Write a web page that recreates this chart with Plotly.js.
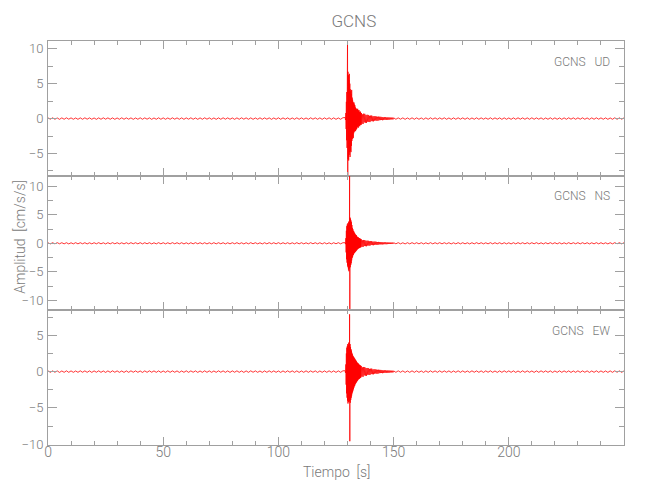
<!DOCTYPE html>
<html>
<head>
<meta charset="utf-8">
<script src="https://cdn.plot.ly/plotly-3.0.1.min.js"></script>
<style>html,body{margin:0;padding:0;background:#fff}</style>
</head>
<body>
<div id="chart" style="width:650px;height:500px"></div>
<script>
// ---- Data (amplitude in cm/s/s, time in s) ----
const station = "GCNS";
const components = ["UD", "NS", "EW"];
const xTickVals = [0, 50, 100, 150, 200];

// sampling of each segment: [start time, step]
const preSeg = [0, 1];
const evtSeg = [129.0, 0.1];
const codaSeg = [136.0, 0.25];
const postSeg = [150, 1];

// UD component
const udPre = [
  0.1,-0.09,0.11,-0.1,0.09,-0.11,0.1,-0.1,0.11,-0.09,0.1,-0.1,0.09,-0.11,0.1,-0.1,0.11,-0.09,0.1,-0.1,
  0.09,-0.11,0.1,-0.1,0.11,-0.09,0.1,-0.1,0.1,-0.11,0.09,-0.1,0.11,-0.1,0.1,-0.09,0.1,-0.11,0.09,-0.1,
  0.11,-0.1,0.1,-0.09,0.1,-0.11,0.09,-0.1,0.11,-0.1,0.1,-0.1,0.09,-0.1,0.11,-0.09,0.1,-0.1,0.1,-0.11,
  0.1,-0.09,0.11,-0.1,0.09,-0.11,0.1,-0.1,0.11,-0.09,0.1,-0.1,0.09,-0.11,0.1,-0.1,0.11,-0.09,0.1,-0.1,
  0.09,-0.11,0.1,-0.1,0.11,-0.09,0.1,-0.1,0.1,-0.11,0.09,-0.1,0.11,-0.1,0.1,-0.09,0.1,-0.11,0.09,-0.1,
  0.11,-0.1,0.1,-0.09,0.1,-0.11,0.09,-0.1,0.11,-0.1,0.1,-0.1,0.09,-0.1,0.11,-0.09,0.1,-0.1,0.1,-0.11,
  0.1,-0.09,0.11,-0.1,0.1,-0.11,0.09,-0.1,0.12];
const udEvt = [0.15,-0.2,0.1,
  0.8,-1.5,2.4,-3.1,3.8,-4.2,4.6,
  11.1,-8.1,
  6.7,-5.8,6.2,-6.0,5.5,-5.2,6.4,-4.8,5.0,
  -5.5,4.2,-4.6,3.9,-4.8,3.5,-3.9,4.1,-3.2,3.0,
  -2.9,2.7,-2.6,2.4,-2.8,2.2,-2.1,2.3,-1.9,2.0,
  -1.8,1.9,-1.7,1.6,-1.8,1.5,-1.6,1.4,-1.5,1.3,
  -1.4,1.3,-1.2,1.4,-1.1,1.2,-1.3,1.1,-1.0,1.2,
  -1.0,0.9,-1.1,0.9,-0.8,1.0,-0.9,0.8,-0.9];
const udCoda = [
  0.8,-0.72,0.6,-0.78,0.7,-0.55,0.68,-0.6,
  0.5,-0.62,0.55,-0.45,0.52,-0.48,0.4,-0.5,
  0.42,-0.36,0.44,-0.38,0.32,-0.4,0.35,-0.3,
  0.34,-0.28,0.3,-0.32,0.26,-0.3,0.28,-0.24,
  0.26,-0.22,0.25,-0.2,0.22,-0.24,0.18,-0.2,
  0.2,-0.17,0.19,-0.2,0.16,-0.18,0.17,-0.15,
  0.16,-0.14,0.15,-0.13,0.14,-0.12,0.13,-0.12];
const udPost = [
  0.11,-0.1,0.1,-0.09,0.1,-0.11,0.09,-0.1,0.11,-0.1,0.1,-0.1,0.09,-0.11,0.1,-0.1,0.11,-0.09,0.1,-0.1,
  0.1,-0.09,0.11,-0.1,0.09,-0.11,0.1,-0.1,0.11,-0.09,0.1,-0.1,0.1,-0.11,0.09,-0.1,0.11,-0.1,0.1,-0.09,
  0.09,-0.1,0.11,-0.1,0.1,-0.09,0.1,-0.11,0.1,-0.1,0.09,-0.11,0.1,-0.1,0.11,-0.09,0.1,-0.1,0.1,-0.1,
  0.11,-0.1,0.1,-0.09,0.1,-0.11,0.09,-0.1,0.11,-0.1,0.1,-0.1,0.09,-0.11,0.1,-0.1,0.11,-0.09,0.1,-0.1,
  0.1,-0.09,0.11,-0.1,0.09,-0.11,0.1,-0.1,0.11,-0.09,0.1,-0.1,0.1,-0.11,0.09,-0.1,0.11,-0.1,0.1,-0.09,
  0.1];

// NS component
const nsPre = [
  0.09,-0.11,0.1,-0.1,0.11,-0.09,0.1,-0.1,0.1,-0.11,0.09,-0.1,0.11,-0.1,0.1,-0.09,0.1,-0.11,0.09,-0.1,
  0.1,-0.09,0.11,-0.1,0.09,-0.11,0.1,-0.1,0.11,-0.09,0.1,-0.1,0.09,-0.11,0.1,-0.1,0.11,-0.09,0.1,-0.1,
  0.11,-0.1,0.1,-0.09,0.1,-0.11,0.09,-0.1,0.11,-0.1,0.1,-0.1,0.09,-0.1,0.11,-0.09,0.1,-0.1,0.1,-0.11,
  0.09,-0.11,0.1,-0.1,0.11,-0.09,0.1,-0.1,0.1,-0.11,0.09,-0.1,0.11,-0.1,0.1,-0.09,0.1,-0.11,0.09,-0.1,
  0.1,-0.09,0.11,-0.1,0.09,-0.11,0.1,-0.1,0.11,-0.09,0.1,-0.1,0.09,-0.11,0.1,-0.1,0.11,-0.09,0.1,-0.1,
  0.11,-0.1,0.1,-0.09,0.1,-0.11,0.09,-0.1,0.11,-0.1,0.1,-0.1,0.09,-0.1,0.11,-0.09,0.1,-0.1,0.1,-0.11,
  0.1,-0.1,0.09,-0.11,0.1,-0.09,0.11,-0.1,0.1];
const nsEvt = [0.1,-0.15,0.2,
  0.9,-1.6,2.2,-2.8,3.0,-3.4,3.3,
  -3.9,3.5,-4.2,3.2,-4.6,3.8,-4.9,3.6,-4.4,
  11.8,-11.6,
  4.5,-4.2,4.3,-3.8,4.0,-3.5,3.7,-3.0,3.2,-2.6,
  2.7,-2.4,2.5,-2.1,2.2,-2.0,2.1,-1.8,1.9,-1.7,
  1.8,-1.6,1.6,-1.5,1.5,-1.4,1.3,-1.3,1.4,-1.2,
  1.2,-1.1,1.1,-1.0,1.1,-0.9,1.0,-0.9,0.9,-0.85,
  0.9,-0.8,0.85,-0.75,0.8,-0.7,0.75,-0.7,0.7];
const nsCoda = [
  0.68,-0.6,0.52,-0.65,0.58,-0.48,0.56,-0.5,
  0.44,-0.52,0.46,-0.4,0.44,-0.4,0.35,-0.42,
  0.36,-0.3,0.38,-0.32,0.28,-0.34,0.3,-0.26,
  0.3,-0.24,0.26,-0.28,0.22,-0.26,0.24,-0.2,
  0.22,-0.19,0.21,-0.18,0.19,-0.2,0.16,-0.17,
  0.17,-0.15,0.16,-0.17,0.14,-0.15,0.15,-0.13,
  0.14,-0.12,0.13,-0.12,0.12,-0.11,0.12,-0.1];
const nsPost = [
  0.1,-0.09,0.11,-0.1,0.09,-0.11,0.1,-0.1,0.11,-0.09,0.1,-0.1,0.1,-0.11,0.09,-0.1,0.11,-0.1,0.1,-0.09,
  0.11,-0.1,0.1,-0.09,0.1,-0.11,0.09,-0.1,0.11,-0.1,0.1,-0.1,0.09,-0.11,0.1,-0.1,0.11,-0.09,0.1,-0.1,
  0.09,-0.1,0.11,-0.1,0.1,-0.09,0.1,-0.11,0.1,-0.1,0.09,-0.11,0.1,-0.1,0.11,-0.09,0.1,-0.1,0.1,-0.1,
  0.1,-0.09,0.11,-0.1,0.09,-0.11,0.1,-0.1,0.11,-0.09,0.1,-0.1,0.1,-0.11,0.09,-0.1,0.11,-0.1,0.1,-0.09,
  0.11,-0.1,0.1,-0.09,0.1,-0.11,0.09,-0.1,0.11,-0.1,0.1,-0.1,0.09,-0.11,0.1,-0.1,0.11,-0.09,0.1,-0.1,
  0.1];

// EW component
const ewPre = [
  0.11,-0.1,0.1,-0.09,0.1,-0.11,0.09,-0.1,0.11,-0.1,0.1,-0.1,0.09,-0.1,0.11,-0.09,0.1,-0.1,0.1,-0.11,
  0.1,-0.09,0.11,-0.1,0.09,-0.11,0.1,-0.1,0.11,-0.09,0.1,-0.1,0.09,-0.11,0.1,-0.1,0.11,-0.09,0.1,-0.1,
  0.09,-0.11,0.1,-0.1,0.11,-0.09,0.1,-0.1,0.1,-0.11,0.09,-0.1,0.11,-0.1,0.1,-0.09,0.1,-0.11,0.09,-0.1,
  0.11,-0.1,0.1,-0.09,0.1,-0.11,0.09,-0.1,0.11,-0.1,0.1,-0.1,0.09,-0.1,0.11,-0.09,0.1,-0.1,0.1,-0.11,
  0.1,-0.09,0.11,-0.1,0.09,-0.11,0.1,-0.1,0.11,-0.09,0.1,-0.1,0.09,-0.11,0.1,-0.1,0.11,-0.09,0.1,-0.1,
  0.09,-0.11,0.1,-0.1,0.11,-0.09,0.1,-0.1,0.1,-0.11,0.09,-0.1,0.11,-0.1,0.1,-0.09,0.1,-0.11,0.09,-0.1,
  0.1,-0.1,0.11,-0.09,0.1,-0.11,0.1,-0.1,0.11];
const ewEvt = [0.12,-0.18,0.15,
  1.0,-1.8,2.5,-3.0,3.3,-3.6,3.5,
  -4.0,3.8,-4.4,3.6,-4.2,4.0,-3.9,3.7,-4.1,
  7.9,-9.6,
  3.8,-4.3,3.4,-3.9,3.1,-3.6,2.9,-3.3,2.6,-3.0,
  2.4,-2.8,2.2,-2.6,2.1,-2.4,2.0,-2.2,1.9,-2.0,
  1.8,-1.9,1.7,-1.7,1.6,-1.6,1.5,-1.5,1.4,-1.4,
  1.3,-1.3,1.2,-1.2,1.15,-1.1,1.1,-1.05,1.0,-1.0,
  0.95,-0.95,0.9,-0.9,0.85,-0.85,0.8,-0.8,0.78];
const ewCoda = [
  0.75,-0.68,0.58,-0.72,0.64,-0.52,0.62,-0.56,
  0.48,-0.58,0.5,-0.43,0.48,-0.44,0.38,-0.46,
  0.4,-0.34,0.42,-0.36,0.3,-0.37,0.33,-0.28,
  0.32,-0.26,0.28,-0.3,0.25,-0.28,0.26,-0.22,
  0.24,-0.2,0.23,-0.19,0.2,-0.22,0.17,-0.19,
  0.18,-0.16,0.17,-0.18,0.15,-0.16,0.16,-0.14,
  0.15,-0.13,0.14,-0.12,0.13,-0.12,0.12,-0.11];
const ewPost = [
  0.1,-0.1,0.11,-0.09,0.1,-0.11,0.09,-0.1,0.11,-0.1,0.1,-0.1,0.09,-0.11,0.1,-0.1,0.11,-0.09,0.1,-0.1,
  0.11,-0.1,0.1,-0.09,0.1,-0.11,0.09,-0.1,0.11,-0.1,0.1,-0.1,0.09,-0.1,0.11,-0.09,0.1,-0.1,0.1,-0.11,
  0.1,-0.09,0.11,-0.1,0.09,-0.11,0.1,-0.1,0.11,-0.09,0.1,-0.1,0.1,-0.11,0.09,-0.1,0.11,-0.1,0.1,-0.09,
  0.09,-0.11,0.1,-0.1,0.11,-0.09,0.1,-0.1,0.1,-0.11,0.09,-0.1,0.11,-0.1,0.1,-0.09,0.1,-0.11,0.09,-0.1,
  0.11,-0.1,0.1,-0.09,0.1,-0.11,0.09,-0.1,0.11,-0.1,0.1,-0.1,0.09,-0.11,0.1,-0.1,0.11,-0.09,0.1,-0.1,
  0.1];

// y ranges of each panel (as in the reference)
const yRanges = [[-8.17, 11.1], [-11.75, 11.85], [-10.12, 8.45]];
const xRange = [0, 250];

// ---- Build traces ----
function seg(vals, s) { return vals.map((v, i) => [s[0] + i * s[1], v]); }
function build(pre, evt, coda, post) {
  const pts = [].concat(seg(pre, preSeg), seg(evt, evtSeg), seg(coda, codaSeg), seg(post, postSeg));
  return { x: pts.map(p => p[0]), y: pts.map(p => p[1]) };
}
const series = [build(udPre, udEvt, udCoda, udPost), build(nsPre, nsEvt, nsCoda, nsPost), build(ewPre, ewEvt, ewCoda, ewPost)];

const axisColor = '#a0a0a0';
const textColor = '#7a7a7a';
const fontFam = 'Roboto, Liberation Sans, sans-serif';

const traces = series.map((s, i) => ({
  type: 'scatter', mode: 'lines', x: s.x, y: s.y,
  xaxis: i === 0 ? 'x' : 'x' + (i + 1), yaxis: i === 0 ? 'y' : 'y' + (i + 1),
  line: { color: '#ff0000', width: 0.8, simplify: false },
  hoverinfo: 'skip', showlegend: false
}));

const domains = [[2/3, 1], [1/3, 2/3], [0, 1/3]];
const layout = {
  width: 650, height: 500,
  margin: { l: 48, r: 26, t: 41, b: 55 },
  paper_bgcolor: '#fff', plot_bgcolor: '#fff',
  showlegend: false,
  title: { text: station, x: 0.531, xref: 'paper', xanchor: 'center', y: 0.958, yref: 'container', yanchor: 'middle',
           font: { family: fontFam, size: 17, color: textColor, weight: 300 } },
  annotations: [],
  font: { family: fontFam, color: textColor, weight: 300 }
};

for (let i = 0; i < 3; i++) {
  const xa = i === 0 ? 'xaxis' : 'xaxis' + (i + 1);
  const ya = i === 0 ? 'yaxis' : 'yaxis' + (i + 1);
  const yId = i === 0 ? 'y' : 'y' + (i + 1);
  const xId = i === 0 ? 'x' : 'x' + (i + 1);
  layout[xa] = {
    domain: [0, 1], anchor: yId, range: xRange, tickvals: xTickVals,
    showline: true, linecolor: axisColor, linewidth: 1, mirror: 'ticks',
    ticks: 'inside', ticklen: 8, tickcolor: axisColor, tickwidth: 1,
    minor: { dtick: 10, ticklen: 4, ticks: 'inside', tickcolor: axisColor },
    showgrid: false, zeroline: false,
    showticklabels: i === 2, ticklabelstandoff: -6,
    tickfont: { family: fontFam, size: 14, color: textColor, weight: 300 }
  };
  if (i > 0) layout[xa].matches = 'x';
  layout[ya] = {
    domain: domains[i], anchor: xId, range: yRanges[i], dtick: 5, tick0: 0,
    showline: true, linecolor: axisColor, linewidth: 1, mirror: 'ticks',
    ticks: 'inside', ticklen: 9, tickcolor: axisColor, tickwidth: 1,
    minor: { dtick: 2.5, ticklen: 5, ticks: 'inside', tickcolor: axisColor },
    showgrid: false, zeroline: false,
    tickfont: { family: fontFam, size: 13, color: textColor, weight: 300 }, ticklabelstandoff: 1
  };
}

const labelY = [0.948, 0.616, 0.282];
components.forEach((c, i) => {
  layout.annotations.push({
    text: station + '&nbsp;&nbsp;&nbsp;' + c, xref: 'paper', yref: 'paper',
    x: 0.98, y: labelY[i], xanchor: 'right', yanchor: 'middle', showarrow: false,
    font: { family: fontFam, size: 12, color: textColor, weight: 300 }
  });
});
layout.annotations.push({
  text: 'Amplitud&nbsp;&nbsp;[cm/s/s]', xref: 'paper', yref: 'paper', x: -0.049, y: 0.515,
  textangle: -90, xanchor: 'center', yanchor: 'middle', showarrow: false,
  font: { family: fontFam, size: 14, color: textColor, weight: 300 }
});
layout.annotations.push({
  text: 'Tiempo&nbsp;&nbsp;[s]', xref: 'paper', yref: 'paper', x: 0.5, y: -0.066,
  xanchor: 'center', yanchor: 'middle', showarrow: false,
  font: { family: fontFam, size: 14, color: textColor, weight: 300 }
});

Plotly.newPlot('chart', traces, layout, { staticPlot: true, displayModeBar: false });
</script>
</body>
</html>
